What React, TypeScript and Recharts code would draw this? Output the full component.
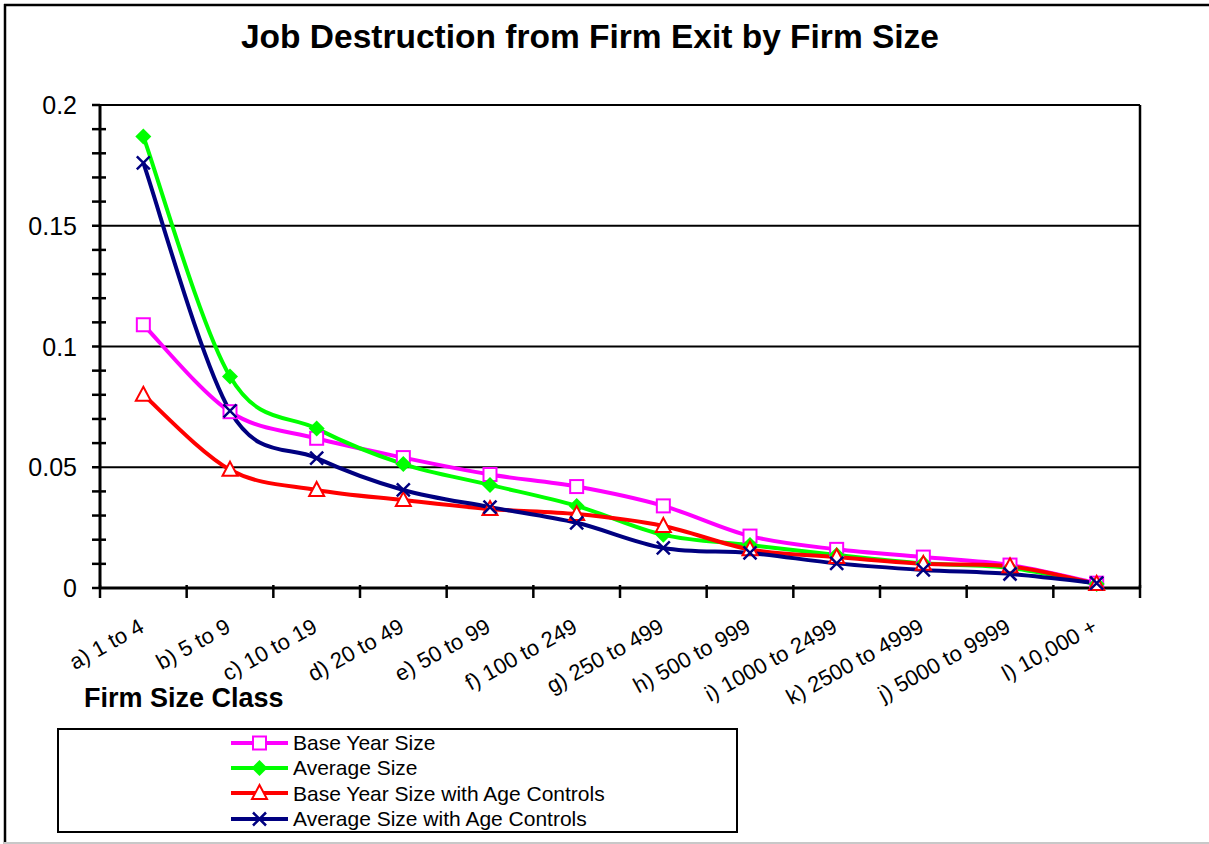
import React from "react";
import { LineChart, Line, XAxis, YAxis, ReferenceLine, CartesianGrid } from "recharts";

// categories and series
const CATEGORIES = [
  "a) 1 to 4",
  "b) 5 to 9",
  "c) 10 to 19",
  "d) 20 to 49",
  "e) 50 to 99",
  "f) 100 to 249",
  "g) 250 to 499",
  "h) 500 to 999",
  "i) 1000 to 2499",
  "k) 2500 to 4999",
  "j) 5000 to 9999",
  "l) 10,000 +",
];
const BASE_YEAR = [0.109, 0.073, 0.062, 0.054, 0.047, 0.042, 0.034, 0.0215, 0.016, 0.0128, 0.0095, 0.002];
const AVERAGE = [0.187, 0.0876, 0.066, 0.0513, 0.0427, 0.034, 0.022, 0.0178, 0.0137, 0.0102, 0.0083, 0.0017];
const BASE_AGE = [0.08, 0.049, 0.0406, 0.0364, 0.0327, 0.0306, 0.0257, 0.016, 0.0128, 0.01, 0.009, 0.0017];
const AVG_AGE = [0.176, 0.0733, 0.0538, 0.0406, 0.0335, 0.027, 0.0166, 0.0145, 0.0102, 0.0075, 0.0058, 0.002];

const MAJOR_TICKS = [0, 0.05, 0.1, 0.15, 0.2];
const MINOR_TICKS = [
  0.01, 0.02, 0.03, 0.04, 0.06, 0.07, 0.08, 0.09, 0.11, 0.12, 0.13, 0.14, 0.16, 0.17, 0.18, 0.19,
];
const GRID_LINES = [0.05, 0.1, 0.15, 0.2];

const SERIES = [
  { key: "baseYear", name: "Base Year Size", color: "#ff00ff", marker: "square", values: BASE_YEAR },
  { key: "average", name: "Average Size", color: "#00ff00", marker: "diamond", values: AVERAGE },
  { key: "baseAge", name: "Base Year Size with Age Controls", color: "#ff0000", marker: "triangle", values: BASE_AGE },
  { key: "avgAge", name: "Average Size with Age Controls", color: "#000080", marker: "cross", values: AVG_AGE },
];

const data = CATEGORIES.map((c, i) => {
  const row: any = { cat: c };
  SERIES.forEach((s) => (row[s.key] = s.values[i]));
  return row;
});

const FONT = '"Liberation Sans", Arial, sans-serif';
const W = 1209;
const H = 844;
const MARGIN = { top: 105, right: 69, left: 40, bottom: 196 };
const Y_AXIS_W = 60;
const X_AXIS_H = 60;
const PLOT_W = W - MARGIN.left - Y_AXIS_W - MARGIN.right;
const BAND = PLOT_W / CATEGORIES.length;
const Y_TICK_MARGIN = 24;

// excel style smoothing: cubic bezier with control points at (next - prev) / 6
function excelCurve(context: any) {
  let pts: number[][] = [];
  return {
    areaStart() {},
    areaEnd() {},
    lineStart() {
      pts = [];
    },
    point(x: number, y: number) {
      pts.push([+x, +y]);
    },
    lineEnd() {
      if (!pts.length) return;
      context.moveTo(pts[0][0], pts[0][1]);
      for (let i = 0; i < pts.length - 1; i++) {
        const p0 = pts[i - 1] || pts[i];
        const p1 = pts[i];
        const p2 = pts[i + 1];
        const p3 = pts[i + 2] || pts[i + 1];
        context.bezierCurveTo(
          p1[0] + (p2[0] - p0[0]) / 6,
          p1[1] + (p2[1] - p0[1]) / 6,
          p2[0] - (p3[0] - p1[0]) / 6,
          p2[1] - (p3[1] - p1[1]) / 6,
          p2[0],
          p2[1]
        );
      }
    },
  };
}

function Marker({ type, cx, cy, color }: any) {
  if (type === "square")
    return <rect x={cx - 6.5} y={cy - 6.5} width={13} height={13} fill="#fff" stroke={color} strokeWidth={2} />;
  if (type === "diamond")
    return <path d={`M${cx} ${cy - 8}L${cx + 8} ${cy}L${cx} ${cy + 8}L${cx - 8} ${cy}Z`} fill={color} />;
  if (type === "triangle")
    return (
      <path
        d={`M${cx} ${cy - 8}L${cx + 7.5} ${cy + 6}L${cx - 7.5} ${cy + 6}Z`}
        fill="#fff"
        stroke={color}
        strokeWidth={2}
      />
    );
  return (
    <path
      d={`M${cx - 6.5} ${cy - 6.5}L${cx + 6.5} ${cy + 6.5}M${cx + 6.5} ${cy - 6.5}L${cx - 6.5} ${cy + 6.5}`}
      stroke={color}
      strokeWidth={2.5}
    />
  );
}

function YTick(props: any) {
  const { x, y, payload } = props;
  const axisX = x + Y_TICK_MARGIN;
  const major = MAJOR_TICKS.includes(payload.value);
  return (
    <g>
      <line x1={axisX - 8} x2={major ? axisX : axisX + 6} y1={y} y2={y} stroke="#000" strokeWidth={2.5} />
      {major && (
        <text x={x + 1} y={y + 9} textAnchor="end" fontSize={25} fontFamily={FONT} fill="#000">
          {String(payload.value)}
        </text>
      )}
    </g>
  );
}

function XTick(props: any) {
  const { x, y, payload, index } = props;
  const last = index === CATEGORIES.length - 1;
  const lx = x + 2;
  const ly = y + 43;
  return (
    <g>
      <line x1={x - BAND / 2} x2={x - BAND / 2} y1={y - 3} y2={y + 10} stroke="#000" strokeWidth={2.5} />
      {last && <line x1={x + BAND / 2} x2={x + BAND / 2} y1={y - 3} y2={y + 10} stroke="#000" strokeWidth={2.5} />}
      <text
        x={lx}
        y={ly}
        textAnchor="end"
        transform={`rotate(-29 ${lx} ${ly})`}
        fontSize={22}
        fontFamily={FONT}
        fill="#000"
      >
        {payload.value}
      </text>
    </g>
  );
}

export default function App() {
  return (
    <div style={{ position: "absolute", left: 0, top: 0, width: W, height: H, background: "#fff", fontFamily: FONT }}>
      <LineChart width={W} height={H} data={data} margin={MARGIN}>
        {/* right-hand border of the plot area */}
        <CartesianGrid
          horizontal={false}
          verticalCoordinatesGenerator={({ offset }: any) => [offset.left + offset.width]}
          stroke="#000"
          strokeWidth={2.5}
          strokeDasharray="0"
        />
        {GRID_LINES.map((v) => (
          <ReferenceLine key={v} y={v} stroke="#000" strokeWidth={2} ifOverflow="visible" />
        ))}
        <XAxis
          dataKey="cat"
          interval={0}
          height={X_AXIS_H}
          padding={{ left: BAND / 2, right: BAND / 2 }}
          axisLine={{ stroke: "#000", strokeWidth: 3 }}
          tickLine={false}
          tickSize={0}
          tickMargin={0}
          tick={<XTick />}
        />
        <YAxis
          width={Y_AXIS_W}
          domain={[0, 0.2]}
          ticks={[...MAJOR_TICKS, ...MINOR_TICKS].sort((a, b) => a - b)}
          interval={0}
          axisLine={{ stroke: "#000", strokeWidth: 3 }}
          tickLine={false}
          tickSize={0}
          tickMargin={Y_TICK_MARGIN}
          tick={<YTick />}
        />
        {SERIES.map((s) => (
          <Line
            key={s.key}
            dataKey={s.key}
            name={s.name}
            type={excelCurve as any}
            stroke={s.color}
            strokeWidth={4}
            isAnimationActive={false}
            dot={(p: any) => (
              <Marker key={`${s.key}-${p.index}`} type={s.marker} cx={p.cx} cy={p.cy} color={s.color} />
            )}
            activeDot={false}
          />
        ))}
      </LineChart>

      <svg width={W} height={H} style={{ position: "absolute", left: 0, top: 0, pointerEvents: "none" }}>
        <line x1={5} x2={5} y1={4} y2={H} stroke="#000" strokeWidth={2.5} />
        <line x1={4} x2={W} y1={5} y2={5} stroke="#000" strokeWidth={2.5} />
        <line x1={4} x2={W} y1={843} y2={843} stroke="#c8c8c8" strokeWidth={2} />
        <text x={590} y={48} textAnchor="middle" fontSize={33.5} fontWeight="bold" fontFamily={FONT} fill="#000">
          Job Destruction from Firm Exit by Firm Size
        </text>
        <text x={84} y={707} fontSize={27} fontWeight="bold" fontFamily={FONT} fill="#000">
          Firm Size Class
        </text>
      </svg>

      <div
        style={{
          position: "absolute",
          left: 57,
          top: 728,
          width: 681,
          height: 105,
          border: "2.5px solid #000",
          boxSizing: "border-box",
        }}
      >
        {SERIES.map((s) => (
          <div key={s.key} style={{ display: "flex", alignItems: "center", height: 25.3, marginLeft: 171 }}>
            <svg width={60} height={20} style={{ flex: "none" }}>
              <line x1={1} x2={58} y1={10} y2={10} stroke={s.color} strokeWidth={4} />
              <Marker type={s.marker} cx={29.5} cy={10} color={s.color} />
            </svg>
            <span style={{ fontSize: 21, lineHeight: "21px", marginLeft: 3, color: "#000", whiteSpace: "nowrap" }}>
              {s.name}
            </span>
          </div>
        ))}
      </div>
    </div>
  );
}
